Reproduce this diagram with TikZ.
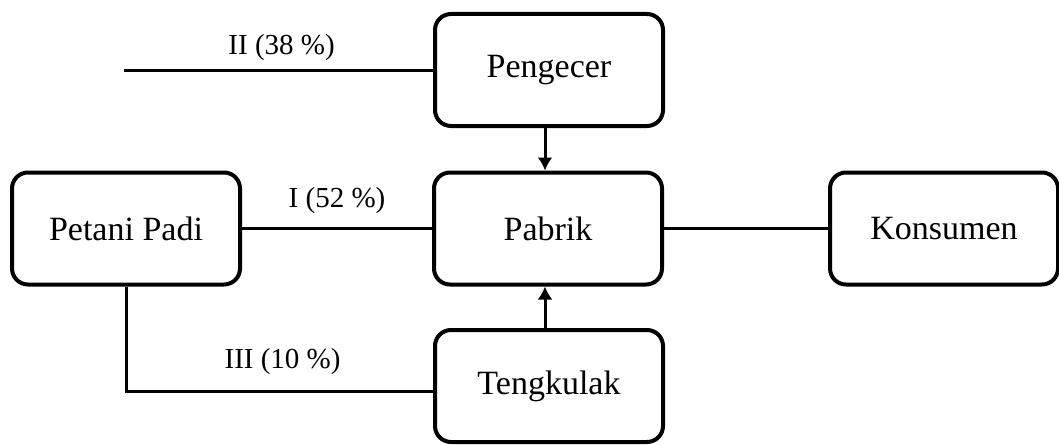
\documentclass[tikz,border=0pt]{standalone}
\usepackage{fontspec}
\setmainfont{Liberation Serif}
\usepackage{tikz}
\usetikzlibrary{arrows.meta}

\begin{document}
\begin{tikzpicture}[>={Latex[length=6.5pt,width=7.5pt]}, x=0.5pt, y=-0.5pt,
    box/.style={rectangle, rounded corners=8pt, draw, line width=2pt, fill=white,
                minimum width=114pt, minimum height=56pt, font=\fontsize{17}{20}\selectfont},
    link/.style={line width=1.5pt},
    pct/.style={font=\fontsize{14.5}{17}\selectfont}]

    % Fix the page size
    \useasboundingbox (0,0) rectangle (1059,444);

    % Boxes
    \node[box] (pengecer) at (549,70) {Pengecer};
    \node[box] (pabrik) at (548,228.5) {Pabrik};
    \node[box] (petani) at (126,228.5) {Petani Padi};
    \node[box] (konsumen) at (944,228.5) {Konsumen};
    \node[box] (tengkulak) at (549,386) {Tengkulak};
    \coordinate (start) at (124,71);
    \coordinate (corner) at (126,391);

    % Connectors
    \draw[link] (start) -- (start -| pengecer.west) node[pct, pos=0.51, yshift=11.5pt] {II (38 \%)};
    \draw[link] (petani) -- (pabrik) node[pct, midway, yshift=14pt] {I (52 \%)};
    \draw[link] (pabrik) -- (konsumen);
    \draw[link] (petani.south) -- (corner) -- (corner -| tengkulak.west) node[pct, pos=0.51, yshift=14.5pt] {III (10 \%)};
    \draw[link, ->] (pengecer.south -| 545,0) -- (pabrik.north -| 545,0);
    \draw[link, ->] (tengkulak.north -| 545,0) -- (pabrik.south -| 545,0);
\end{tikzpicture}
\end{document}
